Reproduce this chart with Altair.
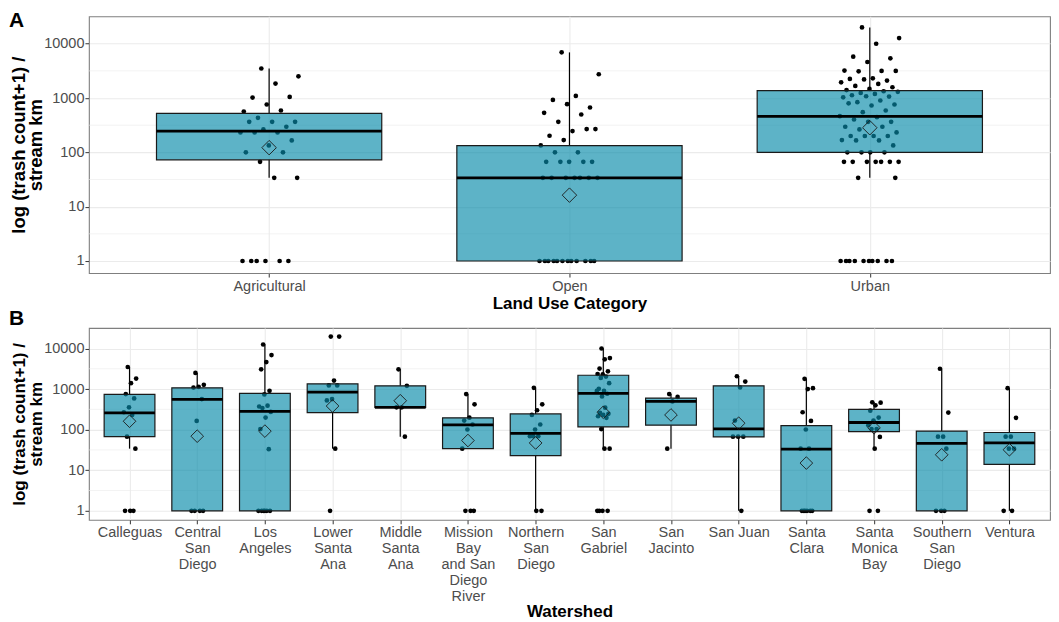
import json
import altair as alt
import pandas as pd

FONT = "Liberation Sans"
BOX_FILL = "#068AA9"

# ---------------- Panel A data ----------------
landuse = ["Agricultural", "Open", "Urban"]
landuse_labels = ["Agricultural", "Open", "Urban"]
agri_vals = [3500, 2515, 1845, 1020, 1050, 760, 565, 590, 433, 365, 365, 365, 296, 264,
             233, 233, 233, 166, 134, 100, 100, 67, 34, 34, 1, 1, 1, 1, 1, 1]
open_vals = [6930, 2740, 1096, 925, 670, 771, 535, 498, 365, 268, 246, 202, 268, 168, 134,
             100, 100, 67, 67, 67, 67, 67, 34, 34, 34, 34, 34, 34, 34,
             1, 1, 1, 1, 1, 1, 1, 1, 1, 1, 1, 1]
urban_vals = [19950, 12700, 10000, 5770, 5380, 4610, 3200, 3160, 3100, 3160, 2310, 2250, 2100,
              2200, 1950, 1820, 1670, 1580, 1470, 1400, 1334, 1244, 1300, 1190, 1127, 1066,
              1080, 1030, 900, 839, 760, 728, 800, 590, 550, 464, 445, 403, 365, 365, 296, 296,
              264, 233, 200, 200, 200, 200, 168, 166, 166, 134, 100, 100, 100, 100,
              67, 67, 67, 67, 67, 67, 67, 34, 34, 1, 1, 1, 1, 1, 1, 1, 1, 1, 1]
landuse_values = [agri_vals, open_vals, urban_vals]
landuse_lo = [34, 1, 34]
landuse_q1 = [73, 1, 100]
landuse_med = [246, 34, 458]
landuse_q3 = [520, 133, 1374]
landuse_hi = [3500, 6930, 19950]
landuse_mean = [122, 16.3, 284]

# ---------------- Panel B data ----------------
sheds = ["Calleguas", "Central San Diego", "Los Angeles", "Lower Santa Ana", "Middle Santa Ana",
         "Mission Bay and San Diego River", "Northern San Diego", "San Gabriel", "San Jacinto",
         "San Juan", "Santa Clara", "Santa Monica Bay", "Southern San Diego", "Ventura"]
shed_labels = [["Calleguas"], ["Central", "San", "Diego"], ["Los", "Angeles"],
               ["Lower", "Santa", "Ana"], ["Middle", "Santa", "Ana"],
               ["Mission", "Bay", "and San", "Diego", "River"], ["Northern", "San", "Diego"],
               ["San", "Gabriel"], ["San", "Jacinto"], ["San Juan"], ["Santa", "Clara"],
               ["Santa", "Monica", "Bay"], ["Southern", "San", "Diego"], ["Ventura"]]
shed_values = [
    [3500, 1815, 1395, 751, 589, 355, 268, 230, 67, 34, 1, 1, 1],
    [2500, 1270, 1135, 1090, 567, 164, 1, 1, 1, 1],
    [12530, 6870, 4630, 3070, 906, 738, 372, 390, 342, 273, 198, 103, 33, 1, 1, 1, 1, 1, 1],
    [19650, 19650, 1620, 1230, 1230, 567, 526, 34, 1],
    [3070, 1200, 355, 355, 67],
    [751, 420, 197, 167, 134, 101, 34, 1, 1, 1],
    [1073, 420, 300, 230, 134, 101, 69, 69, 69, 1, 1],
    [10000, 5800, 5400, 3190, 2740, 2290, 2350, 2030, 1880, 1395, 906, 1014, 766, 659, 900,
     348, 258, 245, 230, 214, 195, 103, 34, 34, 1, 1, 1, 1],
    [751, 640, 497, 34],
    [2070, 1531, 1094, 167, 67, 67, 67, 1],
    [1790, 1050, 1000, 268, 164, 101, 34, 34, 1, 1, 1, 1, 1, 1],
    [470, 461, 398, 294, 198, 167, 129, 103, 103, 66, 34, 1, 1],
    [3170, 263, 67, 67, 34, 1, 1, 1],
    [1050, 195, 67, 67, 34, 34, 1, 1],
]
shed_lo = [34, 1, 1, 34, 67, 34, 1, 34, 34, 1, 1, 34, 1, 1]
shed_q1 = [67, 1, 1, 263, 355, 34, 23, 117, 129, 66, 1, 89, 1, 14]
shed_med = [258, 556, 283, 841, 355, 131, 81, 780, 497, 105, 33, 150, 46, 47]
shed_q3 = [738, 1073, 780, 1343, 1200, 195, 244, 2188, 600, 1200, 126, 317, 92, 85]
shed_hi = [3500, 2500, 12530, 1343, 3070, 751, 1073, 10000, 751, 2070, 1790, 470, 3170, 1050]
shed_mean = [161, 69, 92, 382, 516, 54, 47, 268, 230, 144, 15, 111, 24, 32]

minor_breaks = [10 ** 0.5, 10 ** 1.5, 10 ** 2.5, 10 ** 3.5]
y_title = ["log (trash count+1) /", "stream km"]


def make_panel(names, labels, values, lo, q1, med, q3, hi, mean,
               width, height, xtitle, letter, letter_y, diamond, ytitle_size, xtitle_pad):
    n = len(names)
    rows = []
    for i, vals in enumerate(values, start=1):
        for k, v in enumerate(vals):
            j = (((k * 0.618034 + 0.37) % 1.0) - 0.5) * 0.2
            rows.append({"idx": i, "xj": i + j, "value": v})
    pts = pd.DataFrame(rows)
    st = pd.DataFrame({"idx": list(range(1, n + 1)), "lo": lo, "q1": q1, "med": med,
                       "q3": q3, "hi": hi, "mean": mean})
    st["x1"] = st["idx"] - 0.375
    st["x2"] = st["idx"] + 0.375

    label_expr = json.dumps(labels) + "[round(datum.value) - 1]"
    xscale = alt.Scale(domain=[0.4, n + 0.6], nice=False, zero=False)
    xaxis = alt.Axis(values=list(range(1, n + 1)), labelExpr=label_expr, title=xtitle,
                     grid=True, gridColor="#ebebeb", gridWidth=1.1, domain=False,
                     tickColor="#333333", tickSize=4, labelColor="#4d4d4d",
                     labelFont=FONT, labelFontSize=14.5, labelPadding=2,
                     labelFlush=False, labelOverlap=False, labelLineHeight=16,
                     labelBaseline="top",
                     titleFont=FONT, titleFontSize=17, titleFontWeight="bold",
                     titleColor="black", titlePadding=xtitle_pad)
    yscale = alt.Scale(type="log", domain=[0.6, 32000], nice=False)
    yaxis = alt.Axis(values=[1, 10, 100, 1000, 10000], format="d", title=y_title,
                     grid=True, gridColor="#ebebeb", gridWidth=1.1, domain=False,
                     tickColor="#333333", tickSize=4, labelColor="#4d4d4d",
                     labelFont=FONT, labelFontSize=14.5, labelPadding=1,
                     labelFlush=False, labelOverlap=False,
                     titleFont=FONT, titleFontSize=ytitle_size, titleFontWeight="bold",
                     titleColor="black", titleLineHeight=17.5, titlePadding=-2)

    def X(f):
        return alt.X(f, type="quantitative", scale=xscale, axis=xaxis)

    def Y(f):
        return alt.Y(f, type="quantitative", scale=yscale, axis=yaxis)

    minor = alt.Chart(pd.DataFrame({"v": minor_breaks})).mark_rule(
        color="#ebebeb", strokeWidth=0.6).encode(
        y=Y("v"), x=alt.value(0), x2=alt.value(width))
    points = alt.Chart(pts).mark_circle(size=22, color="black", opacity=1).encode(
        x=X("xj"), y=Y("value"))
    base = alt.Chart(st)
    whisk_hi = base.mark_rule(color="black", strokeWidth=1.2).encode(
        x=X("idx"), y=Y("q3"), y2="hi")
    whisk_lo = base.mark_rule(color="black", strokeWidth=1.2).encode(
        x=X("idx"), y=Y("lo"), y2="q1")
    box = base.mark_rect(fill=BOX_FILL, fillOpacity=0.65, stroke="#1a1a1a",
                         strokeWidth=1.2).encode(x=X("x1"), x2="x2", y=Y("q1"), y2="q3")
    median = base.mark_rule(color="black", strokeWidth=2.8).encode(
        x=X("x1"), x2="x2", y=Y("med"))
    means = base.mark_point(shape="diamond", filled=False, color="#1a1a1a",
                            strokeWidth=0.9, size=diamond, opacity=1).encode(
        x=X("idx"), y=Y("mean"))
    tag = alt.Chart(pd.DataFrame({"t": [letter]})).mark_text(
        font=FONT, fontSize=21, fontWeight="bold", color="black",
        align="left", baseline="top").encode(
        text="t:N", x=alt.value(-80), y=alt.value(letter_y))
    return alt.layer(minor, points, whisk_hi, whisk_lo, box, median, means, tag).properties(
        width=width, height=height)


panel_a = make_panel(landuse, landuse_labels, landuse_values, landuse_lo, landuse_q1,
                     landuse_med, landuse_q3, landuse_hi, landuse_mean,
                     962, 257, "Land Use Category", "A", -6, 210, 18.5, 3)
panel_b = make_panel(sheds, shed_labels, shed_values, shed_lo, shed_q1, shed_med,
                     shed_q3, shed_hi, shed_mean,
                     962, 192, "Watershed", "B", -20, 160, 17, 0)

chart = alt.vconcat(panel_a, panel_b, spacing=-6).properties(
    padding={"left": 0, "top": 1, "right": 0, "bottom": 0},
    background="white",
).configure_view(stroke="#7f7f7f", strokeWidth=1.1)

chart.save("out.html", embed_options={"renderer": "svg", "actions": False})
